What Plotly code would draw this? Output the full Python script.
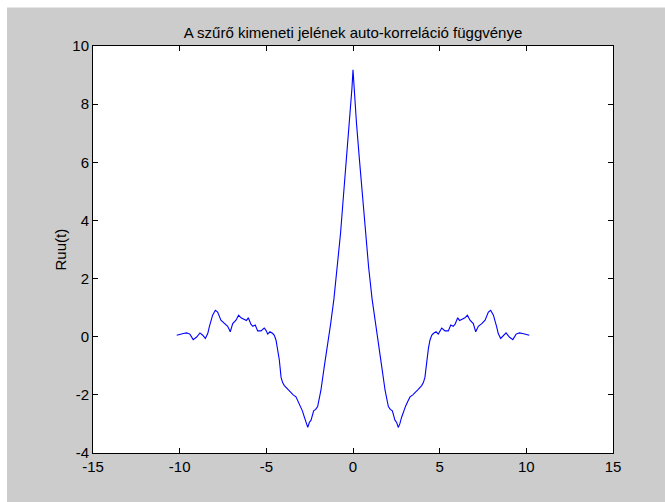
import plotly.graph_objects as go

# Autocorrelation of the filter output, positive lags (the function is even)
lag_pos = [0.00, 0.06, 0.20, 0.37, 0.55, 0.72, 0.90, 1.10, 1.30, 1.45, 1.66, 1.85,
           2.04, 2.15, 2.27, 2.42, 2.52, 2.61, 2.70, 2.81, 2.92, 3.04, 3.18, 3.29,
           3.45, 3.58, 3.75, 3.96, 4.06, 4.15, 4.25, 4.35, 4.44, 4.54, 4.63, 4.79,
           4.92, 5.02, 5.12, 5.31, 5.50, 5.64, 5.78, 5.89, 6.04, 6.15, 6.27, 6.46,
           6.60, 6.75, 6.94, 7.08, 7.23, 7.43, 7.62, 7.81, 7.94, 8.10, 8.29, 8.38,
           8.52, 8.67, 8.83, 9.02, 9.22, 9.41, 9.60, 9.79, 10.02, 10.17]
ruu_pos = [9.18, 8.55, 7.35, 6.10, 4.85, 3.55, 2.40, 1.30, 0.40, -0.25, -1.04, -1.84,
           -2.40, -2.50, -2.55, -2.87, -2.95, -3.12, -3.00, -2.76, -2.55, -2.38, -2.20, -2.07,
           -2.00, -1.93, -1.82, -1.68, -1.58, -1.40, -0.80, -0.40, -0.12, 0.05, 0.11, 0.17,
           0.09, 0.22, 0.30, 0.20, 0.20, 0.40, 0.36, 0.43, 0.65, 0.56, 0.59, 0.65,
           0.74, 0.57, 0.45, 0.17, 0.36, 0.45, 0.57, 0.85, 0.91, 0.74, 0.34, 0.11,
           -0.06, 0.05, 0.13, -0.01, -0.10, 0.09, 0.13, 0.11, 0.08, 0.05]

x_ticks = [-15, -10, -5, 0, 5, 10, 15]
y_ticks = [-4, -2, 0, 2, 4, 6, 8, 10]

# Full symmetric curve: negative lags mirrored from the positive side
lags = [-v for v in reversed(lag_pos[1:])] + lag_pos
ruu = list(reversed(ruu_pos[1:])) + ruu_pos

FONT = "Liberation Sans, Arial, Helvetica, sans-serif"
FS = 15
W, H = 665, 502
L, R, T, B = 93, 52, 45.5, 49
pw, ph = W - L - R, H - T - B

fig = go.Figure()
fig.add_trace(go.Scatter(x=lags, y=ruu, mode="lines",
                         line=dict(color="#0000ff", width=1.1),
                         hoverinfo="x+y", showlegend=False))

axis_common = dict(showline=True, linecolor="black", linewidth=1, mirror="ticks",
                   ticks="inside", ticklen=5, tickcolor="black", tickwidth=1,
                   showgrid=False, zeroline=False,
                   tickfont=dict(family=FONT, size=FS, color="black"))

fig.update_xaxes(range=[-15, 15], tickvals=x_ticks, ticktext=[str(v) for v in x_ticks],
                 **axis_common)
fig.update_yaxes(range=[-4, 10], tickvals=y_ticks, ticktext=[str(v) for v in y_ticks],
                 **axis_common)

# white strips along top and left edge of the grey figure
fig.add_shape(type="rect", xref="paper", yref="paper", layer="above",
              x0=-L / pw - 0.01, x1=(7 - L) / pw, y0=-B / ph - 0.02, y1=1 + T / ph + 0.02,
              fillcolor="white", line=dict(width=0))
fig.add_shape(type="rect", xref="paper", yref="paper", layer="above",
              x0=-L / pw - 0.01, x1=1 + R / pw + 0.01, y0=1 + (T - 7) / ph, y1=1 + T / ph + 0.02,
              fillcolor="white", line=dict(width=0))

fig.add_annotation(text="Ruu(t)", xref="paper", yref="paper",
                   x=(60 - L) / pw, y=0.5, xanchor="center", yanchor="middle",
                   textangle=-90, showarrow=False,
                   font=dict(family=FONT, size=FS, color="black"))

fig.update_layout(
    width=W, height=H,
    margin=dict(l=L, r=R, t=T, b=B),
    paper_bgcolor="#cccccc", plot_bgcolor="white",
    title=dict(text="A szűrő kimeneti jelének auto-korreláció függvénye",
               x=0.5, xref="paper", y=1 - 33 / H, yref="container",
               xanchor="center", yanchor="middle",
               font=dict(family=FONT, size=FS, color="black")),
)

fig.write_html("out.html")
